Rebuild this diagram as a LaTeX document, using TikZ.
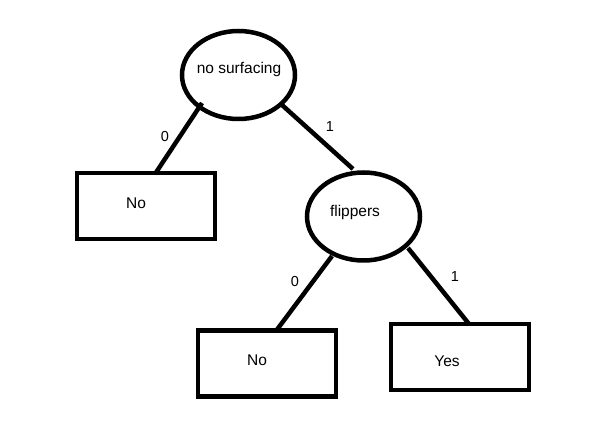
\documentclass[tikz,border=0pt]{standalone}
\usepackage{fontspec}
\setmainfont{Liberation Sans}
\usetikzlibrary{shapes.geometric}
\begin{document}
\begin{tikzpicture}[x=1pt,y=-1pt,
  decision/.style={draw=black,line width=4.5pt,ellipse,minimum width=113pt,minimum height=88pt,inner sep=0pt},
  leaf/.style={draw=black,line width=4.5pt,rectangle,minimum width=138pt,minimum height=66pt,inner sep=0pt},
  txt/.style={font=\fontsize{15.5}{17}\selectfont,inner sep=0pt},
  lbl/.style={font=\fontsize{14.5}{16}\selectfont,inner sep=0pt},
  edge/.style={line width=4.5pt}]
\useasboundingbox (0,0) rectangle (605,435);
\node[decision] (root) at (238.5,75) {};
\node[txt] (roott) at (239,69) {no surfacing};
\node[decision] (flip) at (363.5,216.5) {};
\node[txt] (flipt) at (355,212) {flippers};
\node[leaf] (no1) at (146,206) {};
\node[txt] (no1t) at (136,203) {No};
\node[leaf] (no2) at (267,363.5) {};
\node[txt] (no2t) at (257,360) {No};
\node[leaf] (yes) at (460,357) {};
\node[txt] (yest) at (447,361) {Yes};
\coordinate (r0) at (202,103);
\coordinate (r1) at (282,105);
\coordinate (f0) at (332,256);
\coordinate (f1) at (408,248);
\coordinate (n1) at (155,174);
\coordinate (fl) at (353,169);
\coordinate (n2) at (276,331);
\coordinate (y1) at (469,324);
\draw[edge] (r0) -- (n1);
\draw[edge] (r1) -- (fl);
\draw[edge] (f0) -- (n2);
\draw[edge] (f1) -- (y1);
\node[lbl] (l0) at (165,137) {0};
\node[lbl] (l1) at (330,127) {1};
\node[lbl] (l2) at (295,282) {0};
\node[lbl] (l3) at (455,277) {1};
\end{tikzpicture}
\end{document}
